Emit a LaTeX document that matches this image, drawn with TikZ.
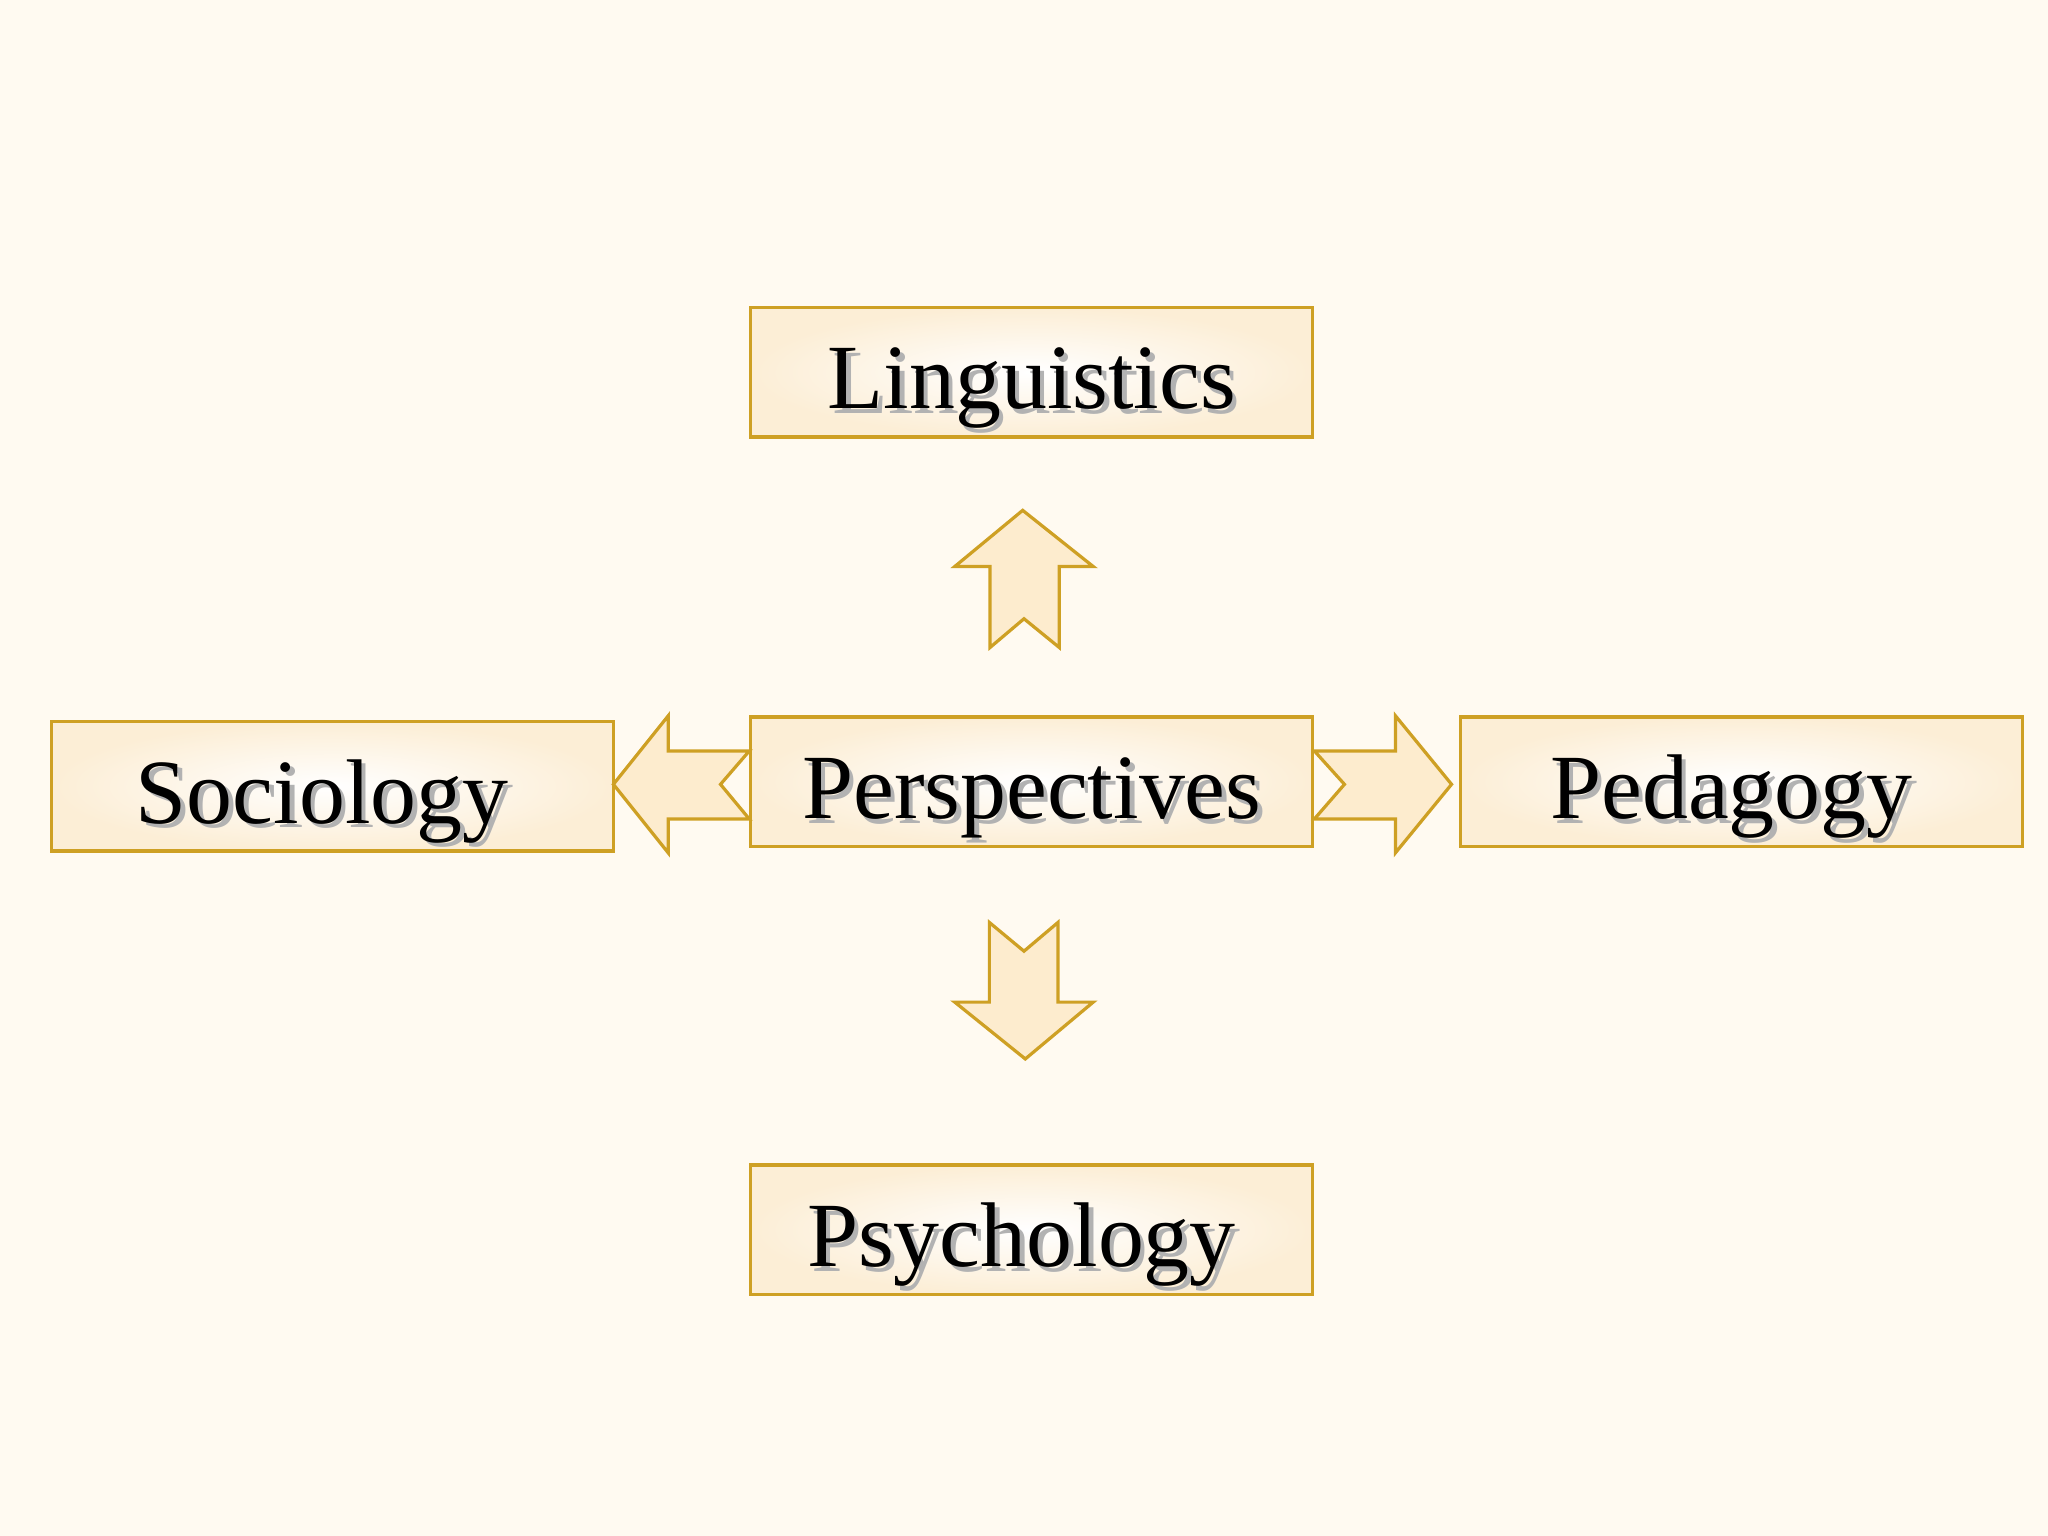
\documentclass[tikz,border=0pt]{standalone}
\usepackage{fontspec}
\setmainfont{Liberation Serif}
\usepackage{tikz}
\usetikzlibrary{arrows,arrows.meta}

\definecolor{bgcream}{RGB}{255,250,241}
\definecolor{boxedge}{RGB}{206,160,36}
\definecolor{boxfill}{RGB}{252,238,214}
\definecolor{arrowfill}{RGB}{253,236,206}

\newcommand{\shadowed}[1]{\makebox[0pt][l]{\hspace{1pt}\raisebox{-1pt}{\textcolor{black!30}{#1}}}#1}

\begin{document}
\begin{tikzpicture}[x=0.01cm, y=-0.01cm,
    field/.style={draw=boxedge, line width=0.7pt, inner color=white, outer color=boxfill,
        minimum width=4.3cm, minimum height=0.99cm, inner sep=0pt,
        text height=20pt, text depth=4pt, font=\fontsize{20}{24}\selectfont},
    blockarrow/.style={draw=boxedge, line width=0.7pt, fill=arrowfill, line join=miter}]
    \fill[bgcream] (0, 0) rectangle (1568, 1176);
    \useasboundingbox (0, 0) rectangle (1568, 1176);

    \node[field] (persp) at (790, 598.5) {\shadowed{Perspectives}};
    \node[field] (ling) at (790, 285) {\shadowed{Linguistics}};
    \node[field] (soc) at (254.5, 602) {\shadowed{Sociology}\kern4.5pt};
    \node[field] (ped) at (1333.5, 598.5) {\shadowed{Pedagogy}\kern4.5pt};
    \node[field] (psy) at (790, 941.5) {\shadowed{Psychology}\kern4.5pt};

    % block arrows, drawn from the anchors of the centre box
    \draw[blockarrow, shift={(persp.north)}] (-7, -157) -- (-59, -114) -- (-32, -114) -- (-32, -52) -- (-6, -74) -- (21, -52) -- (21, -114) -- (47, -114) -- cycle;
    \draw[blockarrow, shift={(persp.south)}] (-32.5, 57) -- (-6, 79) -- (20, 57) -- (20, 118) -- (47, 118) -- (-5, 161.5) -- (-59, 118) -- (-32.5, 118) -- cycle;
    \draw[blockarrow, shift={(persp.west)}] (0, -23.5) -- (-22, 2) -- (0, 28.5) -- (-62, 28.5) -- (-62, 54.5) -- (-104, 2) -- (-62, -50.5) -- (-62, -23.5) -- cycle;
    \draw[blockarrow, shift={(persp.east)}] (0, -23.5) -- (62, -23.5) -- (62, -50.5) -- (105, 2) -- (62, 54.5) -- (62, 28.5) -- (0, 28.5) -- (23, 2) -- cycle;
\end{tikzpicture}
\end{document}
